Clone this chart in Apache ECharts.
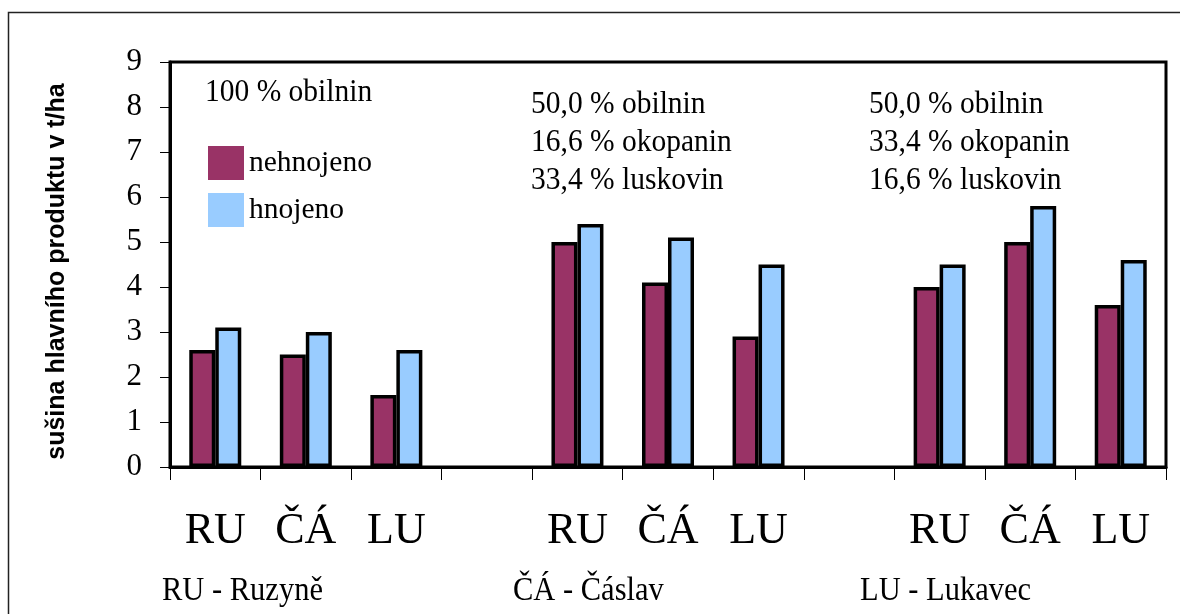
<!DOCTYPE html>
<html>
<head>
<meta charset="utf-8">
<script src="https://cdn.jsdelivr.net/npm/echarts@6/dist/echarts.min.js"></script>
<style>
html,body{margin:0;padding:0;background:#fff;}
#chart{width:1180px;height:614px;}
</style>
</head>
<body>
<div id="chart"></div>
<script>
const categories = ['RU', 'ČÁ', 'LU', '', 'RU', 'ČÁ', 'LU', '', 'RU', 'ČÁ', 'LU'];
const seriesNames = ['nehnojeno', 'hnojeno'];
const nehnojeno = [2.6, 2.5, 1.6, null, 5.0, 4.1, 2.9, null, 4.0, 5.0, 3.6];
const hnojeno = [3.1, 3.0, 2.6, null, 5.4, 5.1, 4.5, null, 4.5, 5.8, 4.6];
const yTicks = { min: 0, max: 9, interval: 1 };
const yTitle = 'sušina hlavního produktu v t/ha';
const group1Note = ['100 % obilnin'];
const group2Note = ['50,0 % obilnin', '16,6 % okopanin', '33,4 % luskovin'];
const group3Note = ['50,0 % obilnin', '33,4 % okopanin', '16,6 % luskovin'];
const siteNames = ['RU - Ruzyně', 'ČÁ - Čáslav', 'LU - Lukavec'];

const serif = '"Liberation Serif", "Times New Roman", serif';
const sans = '"Liberation Sans", Arial, sans-serif';

function noteLines(lines, x, y0, step) {
  return lines.map((t, i) => ({
    type: 'text', left: x, top: y0 + i * step, scaleY: 1.1,
    style: { text: t, font: '29.5px ' + serif, fill: '#000' }
  }));
}

const chart = echarts.init(document.getElementById('chart'));
chart.setOption({
  animation: false,
  backgroundColor: '#fff',
  grid: { left: 170, right: 14, top: 62, bottom: 147, show: true, borderColor: '#000', borderWidth: 3, backgroundColor: 'transparent' },
  legend: {
    data: seriesNames, orient: 'vertical', left: 203, top: 141,
    itemWidth: 36, itemHeight: 34, itemGap: 13, icon: 'rect',
    itemStyle: { borderWidth: 0 },
    textStyle: { fontFamily: serif, fontSize: 29.5, color: '#000' },
    selectedMode: false
  },
  xAxis: {
    type: 'category', data: categories,
    axisLine: { show: true, lineStyle: { color: '#000', width: 3 } },
    axisTick: { show: true, length: 13, interval: 0, lineStyle: { color: '#000', width: 1 } },
    axisLabel: { interval: 0, fontFamily: serif, fontSize: 44, color: '#000', margin: 42 },
    splitLine: { show: false }
  },
  yAxis: {
    type: 'value', min: yTicks.min, max: yTicks.max, interval: yTicks.interval,
    name: yTitle, nameLocation: 'middle', nameRotate: 90, nameGap: 100,
    nameTextStyle: { fontFamily: sans, fontWeight: 'bold', fontSize: 25, color: '#000', padding: [0, 14, 0, 0] },
    axisLine: { show: true, lineStyle: { color: '#000', width: 3 } },
    axisTick: { show: true, inside: false, length: 10, lineStyle: { color: '#000', width: 1 } },
    axisLabel: { fontFamily: serif, fontSize: 31, color: '#000', margin: 28 },
    splitLine: { show: false }
  },
  series: [
    { name: seriesNames[0], type: 'bar', data: nehnojeno, barWidth: 26, barGap: '0%',
      itemStyle: { color: '#993366', borderColor: '#000', borderWidth: 3.5 }, emphasis: { disabled: true } },
    { name: seriesNames[1], type: 'bar', data: hnojeno, barWidth: 26, barGap: '0%',
      itemStyle: { color: '#99CCFF', borderColor: '#000', borderWidth: 3.5 }, emphasis: { disabled: true } }
  ],
  graphic: [
    { type: 'rect', shape: { x: 8.5, y: 12.5, width: 1400, height: 800 }, style: { fill: 'none', stroke: '#222', lineWidth: 1.5 }, silent: true, z: 0 },
    ...noteLines(group1Note, 205, 76, 38),
    ...noteLines(group2Note, 531, 88, 38),
    ...noteLines(group3Note, 869, 88, 38),
    { type: 'text', left: 162, top: 574, scaleY: 1.12, style: { text: siteNames[0], font: '30.5px ' + serif, fill: '#000' } },
    { type: 'text', left: 513, top: 574, scaleY: 1.12, style: { text: siteNames[1], font: '30.5px ' + serif, fill: '#000' } },
    { type: 'text', left: 860, top: 574, scaleY: 1.12, style: { text: siteNames[2], font: '30.5px ' + serif, fill: '#000' } }
  ]
});
</script>
</body>
</html>
